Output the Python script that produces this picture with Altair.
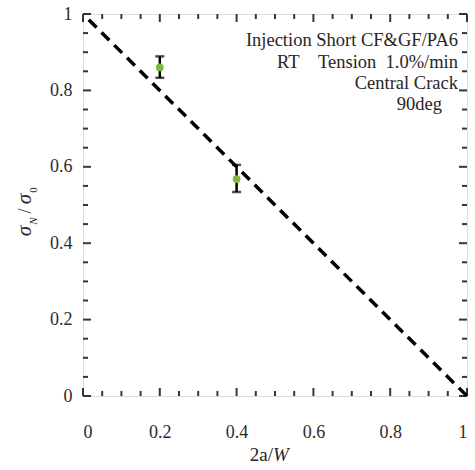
import altair as alt
import pandas as pd

# data
pt_x = [0.2, 0.4]
pt_y = [0.860, 0.568]
pt_lo = [0.833, 0.534]
pt_hi = [0.889, 0.605]
line_x = [0.015, 1.0]
line_y = [0.985, 0.0]
major_ticks = [0, 0.2, 0.4, 0.6, 0.8, 1.0]
minor_ticks = [0.05, 0.1, 0.15, 0.25, 0.3, 0.35, 0.45, 0.5, 0.55,
               0.65, 0.7, 0.75, 0.85, 0.9, 0.95]
notes = ["Injection Short CF&GF/PA6", "RT\u00a0\u00a0\u00a0\u00a0Tension\u00a0\u00a01.0%/min",
         "Central Crack", "90deg"]

W, H = 384, 382
FONT = "Liberation Serif"
AX = "#3a3232"
TXT = "#2a2424"

xs = alt.Scale(domain=[0, 1], nice=False)
ys = alt.Scale(domain=[0, 1], nice=False)

pts = pd.DataFrame({"x": pt_x, "y": pt_y, "lo": pt_lo, "hi": pt_hi})
ln = pd.DataFrame({"x": line_x, "y": line_y})

base_axes = alt.Chart(pd.DataFrame({"x": [0], "y": [0]})).mark_point(opacity=0).encode(
    x=alt.X("x:Q", scale=xs, axis=alt.Axis(values=major_ticks, format="~g", ticks=False, domain=False,
              grid=False, labelPadding=27, labelFont=FONT, labelFontSize=18, labelColor="#2e2a2a",
              title=None)),
    y=alt.Y("y:Q", scale=ys, axis=alt.Axis(values=major_ticks, format="~g", ticks=False, domain=False,
              grid=False, labelPadding=11, labelFont=FONT, labelFontSize=18, labelColor="#2e2a2a",
              title=None)),
)

line = alt.Chart(ln).mark_line(color="black", strokeWidth=3.5, strokeDash=[11, 7]).encode(
    x=alt.X("x:Q", scale=xs), y=alt.Y("y:Q", scale=ys))

err = alt.Chart(pts).mark_rule(color="black", strokeWidth=2.5).encode(
    x=alt.X("x:Q", scale=xs), y=alt.Y("lo:Q", scale=ys), y2="hi:Q")
cap_lo = alt.Chart(pts).mark_tick(color="black", thickness=2.5, size=9, orient="horizontal").encode(
    x=alt.X("x:Q", scale=xs), y=alt.Y("lo:Q", scale=ys))
cap_hi = alt.Chart(pts).mark_tick(color="black", thickness=2.5, size=9, orient="horizontal").encode(
    x=alt.X("x:Q", scale=xs), y=alt.Y("hi:Q", scale=ys))
dots = alt.Chart(pts).mark_circle(color="#7fb83a", size=60, opacity=1).encode(
    x=alt.X("x:Q", scale=xs), y=alt.Y("y:Q", scale=ys))

tk = pd.DataFrame({"v": major_ticks + minor_ticks,
                   "len": [8] * len(major_ticks) + [5] * len(minor_ticks)})

def ticks_x(top):
    a0 = "1" if top else "0"
    a1 = f"1 - datum.len/{H}" if top else f"datum.len/{H}"
    return alt.Chart(tk).transform_calculate(p0=a0, p1=a1).mark_rule(
        color=AX, strokeWidth=2).encode(
        x=alt.X("v:Q", scale=xs), y=alt.Y("p0:Q", scale=ys), y2="p1:Q")

def ticks_y(right):
    a0 = "1" if right else "0"
    a1 = f"1 - datum.len/{W}" if right else f"datum.len/{W}"
    return alt.Chart(tk).transform_calculate(p0=a0, p1=a1).mark_rule(
        color=AX, strokeWidth=2).encode(
        y=alt.Y("v:Q", scale=ys), x=alt.X("p0:Q", scale=xs), x2="p1:Q")

def txt(t, x, y, size, style="normal", align="center", angle=0):
    return alt.Chart(pd.DataFrame({"t": [t]})).mark_text(
        angle=angle, align=align, baseline="middle", font=FONT, fontSize=size,
        fontStyle=style, color=TXT).encode(x=alt.value(x), y=alt.value(y), text="t:N")

notes_layer = (txt(notes[0], W - 9, 26, 18.5, align="right")
               + txt(notes[1], W - 9, 48, 18.5, align="right")
               + txt(notes[2], W - 9, 69, 18.5, align="right")
               + txt(notes[3], W - 25, 90, 18.5, align="right"))

# y title: sigma_N / sigma_0
ytitle = (txt("σ", -58, 217, 21, "italic", angle=270)
          + txt("N", -49, 207, 11, "italic", angle=270)
          + txt("/", -57, 197, 18, angle=270)
          + txt("σ", -58, 185, 21, "italic", angle=270)
          + txt("0", -49, 176, 11, angle=270))

# x title: 2a/W
xtitle = txt("2a/", 190, 441, 19, align="right") + txt("W", 190, 441, 19, "italic", align="left")

chart = alt.layer(
    base_axes, ticks_x(False), ticks_x(True), ticks_y(False), ticks_y(True),
    line, err, cap_lo, cap_hi, dots, notes_layer, ytitle, xtitle
).properties(
    width=W, height=H,
    autosize=alt.AutoSizeParams(type="none"),
    padding={"left": 83, "top": 14, "right": 8, "bottom": 74},
).configure_view(stroke=AX, strokeWidth=2.5).configure(background="white")

chart.save("out.html", embed_options={"renderer": "svg", "actions": False})
